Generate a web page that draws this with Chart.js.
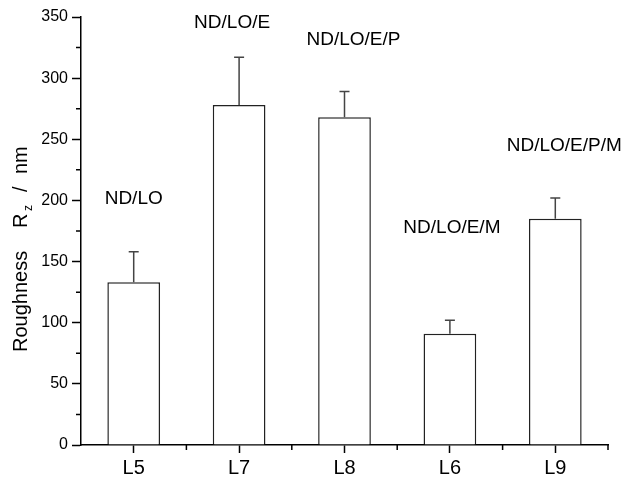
<!DOCTYPE html>
<html>
<head>
<meta charset="utf-8">
<script src="https://cdn.jsdelivr.net/npm/chart.js@4.4.0/dist/chart.umd.min.js"></script>
<style>
  body { margin: 0; background: #fff; }
</style>
</head>
<body>
<canvas id="chart" width="626" height="482"></canvas>
<script>
// data
const samples = ["L5", "L7", "L8", "L6", "L9"];
const roughness = [133, 278, 268, 91, 185];
const roughnessErr = [25, 39, 21, 11, 17];
const treatments = ["ND/LO", "ND/LO/E", "ND/LO/E/P", "ND/LO/E/M", "ND/LO/E/P/M"];
const treatmentY = [201, 345, 331, 178, 245]; // label height in axis units
const yMin = 0, yMax = 350, yStep = 50;

const FONT = "'Liberation Sans', Arial, sans-serif";
const labelDx = [0, -7, 9, 2, 9]; // small nudges so labels sit like the original

// minor ticks, error bars, treatment labels and the y title with subscript
const extras = {
  id: "extras",
  afterDatasetsDraw(chart) {
    const ctx = chart.ctx;
    const x = chart.scales.x, y = chart.scales.y;
    ctx.save();

    // error bars (upper only)
    ctx.strokeStyle = "#444";
    ctx.lineWidth = 1.5;
    roughness.forEach((v, i) => {
      const px = x.getPixelForValue(i);
      const top = y.getPixelForValue(v + roughnessErr[i]);
      ctx.beginPath();
      ctx.moveTo(px, y.getPixelForValue(v));
      ctx.lineTo(px, top);
      ctx.moveTo(px - 5, top);
      ctx.lineTo(px + 5, top);
      ctx.stroke();
    });

    // minor ticks
    ctx.strokeStyle = "#000";
    ctx.lineWidth = 1.5;
    ctx.beginPath();
    for (let v = yMin + yStep / 2; v < yMax; v += yStep) {
      const py = y.getPixelForValue(v);
      ctx.moveTo(x.left - 5, py);
      ctx.lineTo(x.left, py);
    }
    const half = (x.getPixelForValue(1) - x.getPixelForValue(0)) / 2;
    samples.forEach((s, i) => {
      const px = x.getPixelForValue(i) + half;
      ctx.moveTo(px, y.bottom);
      ctx.lineTo(px, y.bottom + 5);
    });
    ctx.stroke();

    // treatment labels
    ctx.fillStyle = "#000";
    ctx.font = "19px " + FONT;
    ctx.textAlign = "center";
    ctx.textBaseline = "middle";
    treatments.forEach((t, i) => {
      ctx.fillText(t, x.getPixelForValue(i) + labelDx[i], y.getPixelForValue(treatmentY[i]));
    });

    // y axis title: Roughness  R_z / nm
    ctx.translate(27, 352);
    ctx.rotate(-Math.PI / 2);
    ctx.textAlign = "left";
    ctx.textBaseline = "alphabetic";
    ctx.font = "20px " + FONT;
    ctx.fillText("Roughness", 0, 0);
    ctx.fillText("R", 124, 0);
    ctx.fillText("/", 160, 0);
    ctx.fillText("nm", 178, 0);
    ctx.font = "12px " + FONT;
    ctx.fillText("z", 141, 5);
    ctx.restore();
  }
};

new Chart(document.getElementById("chart"), {
  type: "bar",
  data: {
    labels: samples,
    datasets: [{
      data: roughness,
      backgroundColor: "#fff",
      borderColor: "#222",
      borderWidth: 1.5,
      barPercentage: 0.5,
      categoryPercentage: 1.0
    }]
  },
  options: {
    responsive: false,
    animation: false,
    layout: { padding: { top: 17, right: 18, left: 0, bottom: 0 } },
    plugins: { legend: { display: false }, tooltip: { enabled: false } },
    scales: {
      x: {
        offset: true,
        grid: { drawOnChartArea: false, offset: false, tickLength: 8, tickColor: "#000", tickWidth: 1.5 },
        border: { color: "#000", width: 1.5 },
        ticks: { color: "#000", font: { size: 20, family: FONT }, padding: 3 },
        afterFit(scale) { scale.height = 37; }
      },
      y: {
        min: yMin,
        max: yMax,
        grid: { drawOnChartArea: false, tickLength: 9, tickColor: "#000", tickWidth: 1.5 },
        border: { color: "#000", width: 1.5 },
        ticks: { stepSize: yStep, color: "#000", font: { size: 16, family: FONT }, padding: 4 },
        afterFit(scale) { scale.width = 81; }
      }
    }
  },
  plugins: [extras]
});
</script>
</body>
</html>
